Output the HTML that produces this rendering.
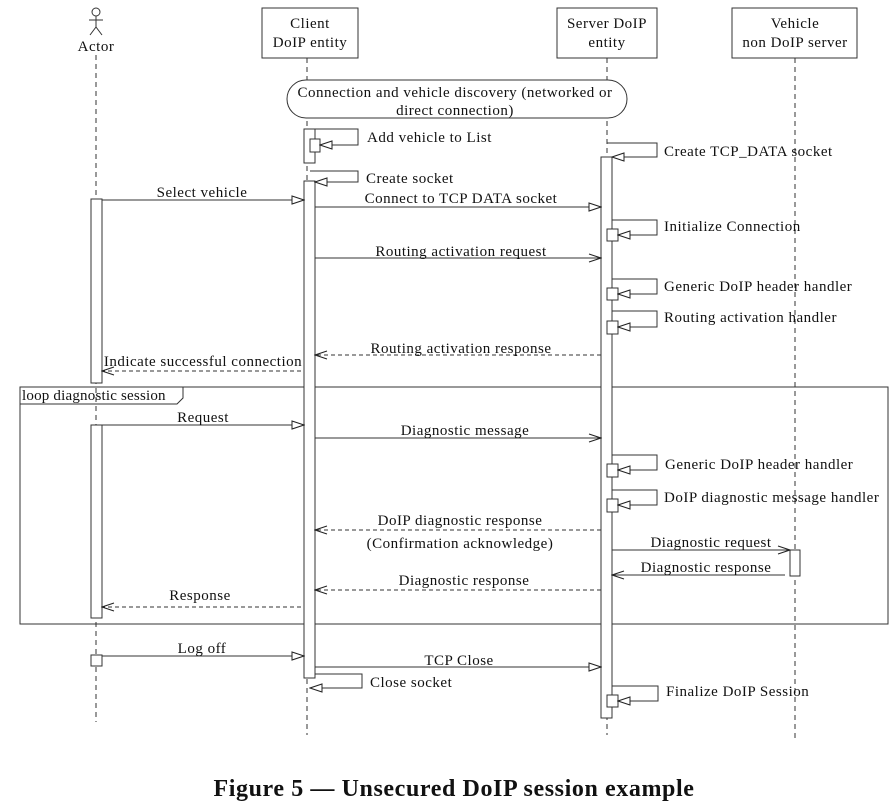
<!DOCTYPE html>
<html><head><meta charset="utf-8"><style>
html,body{margin:0;padding:0;background:#fff;}
svg{display:block;font-family:"Liberation Serif",serif;}
text{font-size:15px;letter-spacing:0.5px;fill:#111;}
</style></head><body>
<svg width="896" height="808" viewBox="0 0 896 808" xmlns="http://www.w3.org/2000/svg">
<defs>
<marker id="h" markerWidth="14" markerHeight="10" refX="13" refY="5" orient="auto" markerUnits="userSpaceOnUse"><path d="M1,1 L13,5 L1,9 Z" fill="#fff" stroke="#222" stroke-width="1"/></marker>
<marker id="o" markerWidth="14" markerHeight="10" refX="13" refY="5" orient="auto" markerUnits="userSpaceOnUse"><path d="M1,1 L13,5 L1,9" fill="none" stroke="#222" stroke-width="1"/></marker>
</defs>
<g stroke="#333" stroke-width="1" fill="none">
<g stroke-dasharray="5,4">
<line x1="96" y1="55" x2="96" y2="722"/>
<line x1="307" y1="58" x2="307" y2="735"/>
<line x1="607" y1="58" x2="607" y2="735"/>
<line x1="795" y1="58" x2="795" y2="740"/>
</g>
<rect x="262" y="8" width="96" height="50" fill="#fff"/>
<rect x="557" y="8" width="100" height="50" fill="#fff"/>
<rect x="732" y="8" width="125" height="50" fill="#fff"/>
<circle cx="96" cy="12" r="4" fill="#fff"/>
<line x1="96" y1="16" x2="96" y2="27"/><line x1="89" y1="20" x2="103" y2="20"/>
<line x1="96" y1="27" x2="90" y2="35"/><line x1="96" y1="27" x2="102" y2="35"/>
<rect x="287" y="80" width="340" height="38" rx="19" fill="#fff"/>
<rect x="20" y="387" width="868" height="237"/>
<path d="M20,404 H177 L183,398 V387"/>
<rect x="304" y="129" width="11" height="34" fill="#fff"/>
<rect x="310" y="139" width="10" height="13" fill="#fff"/>
<rect x="304" y="181" width="11" height="497" fill="#fff"/>
<rect x="601" y="157" width="11" height="561" fill="#fff"/>
<rect x="91" y="199" width="11" height="184" fill="#fff"/>
<rect x="91" y="425" width="11" height="193" fill="#fff"/>
<rect x="91" y="655" width="11" height="11" fill="#fff"/>
<rect x="790" y="550" width="10" height="26" fill="#fff"/>
<g fill="#fff">
<rect x="607" y="229" width="11" height="12"/>
<rect x="607" y="288" width="11" height="12"/>
<rect x="607" y="321" width="11" height="13"/>
<rect x="607" y="464" width="11" height="13"/>
<rect x="607" y="499" width="11" height="13"/>
<rect x="607" y="695" width="11" height="12"/>
</g>
<path d="M315,129 H358 V145 H320" marker-end="url(#h)"/>
<path d="M310,171 H358 V182 H315" marker-end="url(#h)"/>
<path d="M607,143 H657 V157 H612" marker-end="url(#h)"/>
<path d="M612,220 H657 V235 H618" marker-end="url(#h)"/>
<path d="M612,279 H657 V294 H618" marker-end="url(#h)"/>
<path d="M612,311 H657 V327 H618" marker-end="url(#h)"/>
<path d="M612,455 H657 V470 H618" marker-end="url(#h)"/>
<path d="M612,490 H657 V505 H618" marker-end="url(#h)"/>
<path d="M612,686 H658 V701 H618" marker-end="url(#h)"/>
<path d="M315,674 H362 V688 H310" marker-end="url(#h)"/>
<line x1="102" y1="200" x2="304" y2="200" marker-end="url(#h)"/>
<line x1="315" y1="207" x2="601" y2="207" marker-end="url(#h)"/>
<line x1="315" y1="258" x2="601" y2="258" marker-end="url(#o)"/>
<line x1="601" y1="355" x2="315" y2="355" stroke-dasharray="4,3" marker-end="url(#o)"/>
<line x1="301" y1="371" x2="102" y2="371" stroke-dasharray="4,3" marker-end="url(#o)"/>
<line x1="102" y1="425" x2="304" y2="425" marker-end="url(#h)"/>
<line x1="315" y1="438" x2="601" y2="438" marker-end="url(#o)"/>
<line x1="601" y1="530" x2="315" y2="530" stroke-dasharray="4,3" marker-end="url(#o)"/>
<line x1="612" y1="550" x2="790" y2="550" marker-end="url(#o)"/>
<line x1="785" y1="575" x2="612" y2="575" marker-end="url(#o)"/>
<line x1="601" y1="590" x2="315" y2="590" stroke-dasharray="4,3" marker-end="url(#o)"/>
<line x1="301" y1="607" x2="102" y2="607" stroke-dasharray="4,3" marker-end="url(#o)"/>
<line x1="102" y1="656" x2="304" y2="656" marker-end="url(#h)"/>
<line x1="315" y1="667" x2="601" y2="667" marker-end="url(#h)"/>
</g>
<g text-anchor="middle">
<text x="96" y="51">Actor</text>
<text x="310" y="28">Client</text><text x="310" y="47">DoIP entity</text>
<text x="607" y="28">Server DoIP</text><text x="607" y="47">entity</text>
<text x="795" y="28">Vehicle</text><text x="795" y="47">non DoIP server</text>
<text x="455" y="97">Connection and vehicle discovery (networked or</text>
<text x="455" y="115">direct connection)</text>
<text x="202" y="197">Select vehicle</text>
<text x="461" y="203">Connect to TCP DATA socket</text>
<text x="461" y="256">Routing activation request</text>
<text x="461" y="353">Routing activation response</text>
<text x="203" y="366">Indicate successful connection</text>
<text x="203" y="422">Request</text>
<text x="465" y="435">Diagnostic message</text>
<text x="460" y="525">DoIP diagnostic response</text>
<text x="460" y="548">(Confirmation acknowledge)</text>
<text x="711" y="547">Diagnostic request</text>
<text x="706" y="572">Diagnostic response</text>
<text x="464" y="585">Diagnostic response</text>
<text x="200" y="600">Response</text>
<text x="202" y="653">Log off</text>
<text x="459" y="665">TCP Close</text>
</g>
<g>
<text x="22" y="400" style="letter-spacing:0.2px">loop diagnostic session</text>
<text x="367" y="142">Add vehicle to List</text>
<text x="366" y="183">Create socket</text>
<text x="664" y="156">Create TCP_DATA socket</text>
<text x="664" y="231">Initialize Connection</text>
<text x="664" y="291">Generic DoIP header handler</text>
<text x="664" y="322">Routing activation handler</text>
<text x="665" y="469">Generic DoIP header handler</text>
<text x="664" y="502">DoIP diagnostic message handler</text>
<text x="370" y="687">Close socket</text>
<text x="666" y="696">Finalize DoIP Session</text>
</g>
<text x="454" y="796" text-anchor="middle" style="font-size:24px;letter-spacing:0.6px;font-weight:bold">Figure 5 — Unsecured DoIP session example</text>
</svg>
</body></html>
